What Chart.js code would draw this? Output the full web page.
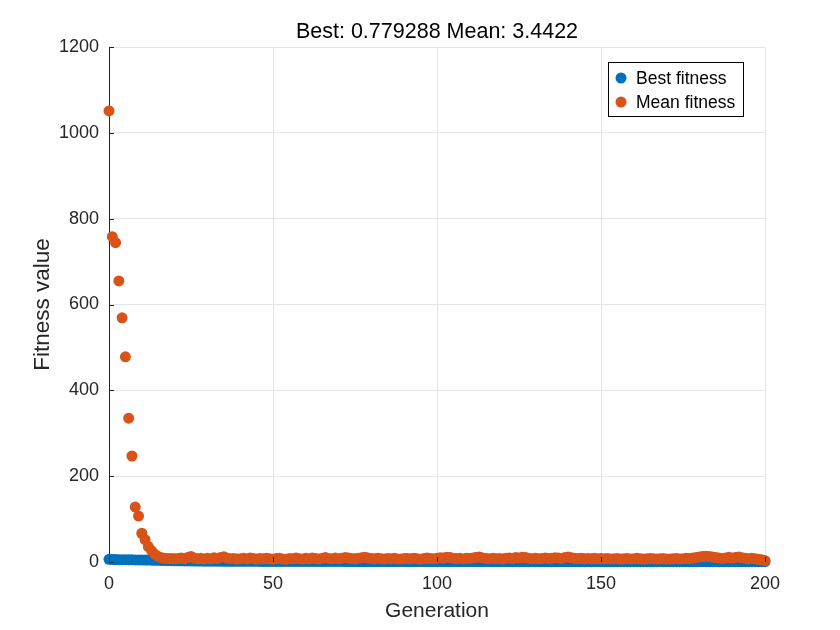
<!DOCTYPE html>
<html>
<head>
<meta charset="utf-8">
<title>Best / Mean fitness</title>
<script src="https://cdn.jsdelivr.net/npm/chart.js@4/dist/chart.umd.min.js"></script>
<style>
    html, body { margin: 0; padding: 0; background: #ffffff; }
    #wrap { width: 840px; height: 630px; }
</style>
</head>
<body>
<div id="wrap"><canvas id="gaChart" width="840" height="630"></canvas></div>
<script>
// values, one per generation (0..200)
const meanFitness = [
    1051, 758, 744, 655, 569, 478, 335, 247, 128, 107,
    67, 52, 36, 26, 18, 13, 10, 9, 8, 8,
    7.5, 8.2, 9.1, 7.4, 10.5, 13.1, 9.2, 7.8, 8.6, 7.1,
    8.9, 7.6, 9.8, 8.1, 10.7, 12.4, 9.0, 7.7, 8.4, 6.9,
    7.8, 8.6, 7.2, 9.4, 7.9, 6.8, 8.1, 7.5, 9.0, 7.3,
    6.6, 7.9, 8.8, 7.0, 6.5, 8.3, 7.4, 9.2, 7.7, 6.9,
    8.5, 7.2, 9.6, 8.0, 7.1, 8.7, 10.2, 8.4, 7.6, 9.1,
    7.8, 8.9, 10.4, 9.3, 8.1, 7.4, 8.8, 9.7, 11.2, 9.5,
    8.3, 7.6, 8.9, 7.8, 6.9, 8.2, 7.5, 8.6, 7.1, 6.8,
    7.9, 8.4, 7.3, 9.0, 7.7, 6.6, 8.1, 9.3, 8.0, 7.4,
    8.8, 10.1, 9.2, 11.3, 10.6, 8.7, 7.9, 8.5, 7.2, 9.0,
    8.3, 9.6, 10.8, 11.5, 9.4, 8.2, 7.6, 8.9, 7.8, 8.4,
    7.1, 8.6, 9.5, 8.0, 10.3, 9.1, 11.0, 10.2, 8.6, 7.7,
    8.9, 7.5, 8.2, 9.4, 7.9, 8.7, 10.1, 9.2, 8.4, 10.6,
    11.4, 9.8, 8.6, 7.9, 8.8, 7.4, 8.1, 7.6, 8.9, 7.3,
    8.0, 7.5, 8.4, 7.1, 7.8, 8.3, 7.0, 7.6, 8.1, 7.2,
    7.7, 8.5, 7.3, 6.9, 7.8, 8.2, 7.4, 6.8, 7.5, 8.0,
    7.2, 6.9, 7.6, 8.3, 7.1, 7.8, 8.6, 7.9, 9.2, 10.5,
    11.8, 12.9, 13.3, 12.6, 11.4, 10.2, 9.1, 8.4, 9.6, 10.8,
    9.3, 10.7, 11.6, 9.8, 8.5, 7.6, 8.9, 7.4, 6.2, 5.1,
    3.4422
];

const bestFitness = [
    6.2, 5.8, 5.8, 5.5, 5.5, 5.3, 5.1, 5.1, 4.9, 4.8,
    4.8, 4.6, 4.6, 4.3, 4.1, 3.9, 3.6, 3.4, 3.2, 3.1,
    2.9, 2.9, 2.7, 2.5, 2.5, 2.4, 2.2, 2.2, 2.1, 2.0,
    2.0, 1.9, 1.9, 1.8, 1.8, 1.7, 1.7, 1.7, 1.6, 1.6,
    1.55, 1.55, 1.52, 1.52, 1.48, 1.48, 1.45, 1.45, 1.43, 1.41,
    1.41, 1.39, 1.38, 1.38, 1.36, 1.35, 1.35, 1.33, 1.32, 1.32,
    1.30, 1.29, 1.29, 1.27, 1.26, 1.26, 1.24, 1.23, 1.23, 1.21,
    1.20, 1.20, 1.19, 1.18, 1.18, 1.16, 1.15, 1.15, 1.14, 1.13,
    1.12, 1.12, 1.11, 1.10, 1.10, 1.09, 1.08, 1.08, 1.07, 1.06,
    1.06, 1.05, 1.04, 1.04, 1.03, 1.02, 1.02, 1.01, 1.00, 1.00,
    0.99, 0.99, 0.98, 0.97, 0.97, 0.96, 0.96, 0.95, 0.94, 0.94,
    0.93, 0.93, 0.92, 0.92, 0.91, 0.91, 0.90, 0.90, 0.89, 0.89,
    0.88, 0.88, 0.88, 0.87, 0.87, 0.86, 0.86, 0.86, 0.85, 0.85,
    0.85, 0.84, 0.84, 0.84, 0.83, 0.83, 0.83, 0.82, 0.82, 0.82,
    0.82, 0.81, 0.81, 0.81, 0.81, 0.80, 0.80, 0.80, 0.80, 0.80,
    0.799, 0.799, 0.797, 0.797, 0.795, 0.795, 0.793, 0.793, 0.792, 0.792,
    0.790, 0.790, 0.789, 0.789, 0.788, 0.788, 0.787, 0.787, 0.786, 0.786,
    0.785, 0.785, 0.784, 0.784, 0.784, 0.783, 0.783, 0.783, 0.782, 0.782,
    0.782, 0.781, 0.781, 0.781, 0.781, 0.780, 0.780, 0.780, 0.780, 0.780,
    0.7795, 0.7795, 0.7794, 0.7794, 0.7793, 0.7793, 0.7793, 0.7793, 0.7793, 0.7793,
    0.779288
];

// generation number is just the position in the lists above
const generations = meanFitness.map((_, i) => i);

const xTicks = [0, 50, 100, 150, 200];
const yTicks = [0, 200, 400, 600, 800, 1000, 1200];

const seriesNames = ['Best fitness', 'Mean fitness'];
const seriesColors = ['#0072BD', '#D95319'];

const titleText = 'Best: 0.779288 Mean: 3.4422';
const axisColor = '#262626';
const fontFamily = '"Liberation Sans", Arial, Helvetica, sans-serif';

const toPoints = (vals) => vals.map((v, i) => ({ x: generations[i], y: v }));

// MATLAB-like inward tick marks on the left and bottom axes
const innerTicks = {
    id: 'innerTicks',
    afterDatasetsDraw(chart) {
        const { ctx, chartArea, scales } = chart;
        ctx.save();
        ctx.strokeStyle = axisColor;
        ctx.lineWidth = 1;
        ctx.beginPath();
        xTicks.forEach(t => {
            const x = Math.round(scales.x.getPixelForValue(t)) + 0.5;
            ctx.moveTo(x, chartArea.bottom);
            ctx.lineTo(x, chartArea.bottom - 5);
        });
        yTicks.forEach(t => {
            const y = Math.round(scales.y.getPixelForValue(t)) + 0.5;
            ctx.moveTo(chartArea.left, y);
            ctx.lineTo(chartArea.left + 5, y);
        });
        ctx.stroke();
        ctx.restore();
    }
};

// boxed legend in the upper right, like MATLAB's 'northeast'
const boxLegend = {
    id: 'boxLegend',
    afterDraw(chart) {
        const { ctx, chartArea } = chart;
        ctx.save();
        ctx.font = '17.5px ' + fontFamily;
        const textW = Math.max(...seriesNames.map(n => ctx.measureText(n).width));
        const right = chartArea.right - 22;
        const top = chartArea.top + 15;
        const rowH = 24;
        const width = 28 + textW + 8;
        const height = 54;
        const left = Math.round(right - width);

        ctx.fillStyle = '#ffffff';
        ctx.fillRect(left, top, right - left, height);
        ctx.strokeStyle = '#000000';
        ctx.lineWidth = 1;
        ctx.strokeRect(left + 0.5, top + 0.5, right - left, height);

        seriesNames.forEach((name, i) => {
            const cy = top + 16 + i * rowH;
            ctx.fillStyle = seriesColors[i];
            ctx.beginPath();
            ctx.arc(left + 13, cy, 5.5, 0, Math.PI * 2);
            ctx.fill();
            ctx.fillStyle = '#000000';
            ctx.textBaseline = 'middle';
            ctx.textAlign = 'left';
            ctx.fillText(name, left + 28, cy + 1);
        });
        ctx.restore();
    }
};

const ctx = document.getElementById('gaChart').getContext('2d');

new Chart(ctx, {
    type: 'scatter',
    data: {
        datasets: [
            {
                label: seriesNames[0],
                data: toPoints(bestFitness),
                backgroundColor: seriesColors[0],
                borderWidth: 0,
                pointRadius: 5.5,
                pointHoverRadius: 5.5,
                clip: false,
                order: 2
            },
            {
                label: seriesNames[1],
                data: toPoints(meanFitness),
                backgroundColor: seriesColors[1],
                borderWidth: 0,
                pointRadius: 5.5,
                pointHoverRadius: 5.5,
                clip: false,
                order: 1
            }
        ]
    },
    options: {
        responsive: false,
        animation: false,
        layout: {
            padding: { left: 0, right: 75, top: 0, bottom: 0 }
        },
        plugins: {
            legend: { display: false },
            tooltip: { enabled: false },
            title: {
                display: true,
                fullSize: false,
                text: titleText,
                color: '#000000',
                font: { family: fontFamily, size: 21.5, weight: 'normal' },
                padding: { top: 19, bottom: 2.2 }
            }
        },
        scales: {
            x: {
                type: 'linear',
                min: 0,
                max: 200,
                afterBuildTicks: (scale) => { scale.ticks = xTicks.map(v => ({ value: v })); },
                afterFit: (scale) => { scale.height = 68; },
                grid: { color: '#e6e6e6', tickLength: 0, drawTicks: false },
                border: { display: true, color: axisColor, width: 1 },
                ticks: {
                    color: axisColor,
                    padding: 11,
                    maxRotation: 0,
                    font: { family: fontFamily, size: 18 },
                    callback: (v) => String(v)
                },
                title: {
                    display: true,
                    text: 'Generation',
                    color: axisColor,
                    font: { family: fontFamily, size: 21 },
                    padding: { top: 0, bottom: 6 }
                }
            },
            y: {
                type: 'linear',
                min: 0,
                max: 1200,
                afterBuildTicks: (scale) => { scale.ticks = yTicks.map(v => ({ value: v })); },
                afterFit: (scale) => { scale.width = 109; },
                grid: { color: '#e6e6e6', tickLength: 0, drawTicks: false },
                border: { display: true, color: axisColor, width: 1 },
                ticks: {
                    color: axisColor,
                    padding: 10,
                    font: { family: fontFamily, size: 18 },
                    callback: (v) => String(v)
                },
                title: {
                    display: true,
                    text: 'Fitness value',
                    color: axisColor,
                    font: { family: fontFamily, size: 22.5 },
                    padding: { top: 29, bottom: 0 }
                }
            }
        }
    },
    plugins: [innerTicks, boxLegend]
});
</script>
</body>
</html>
